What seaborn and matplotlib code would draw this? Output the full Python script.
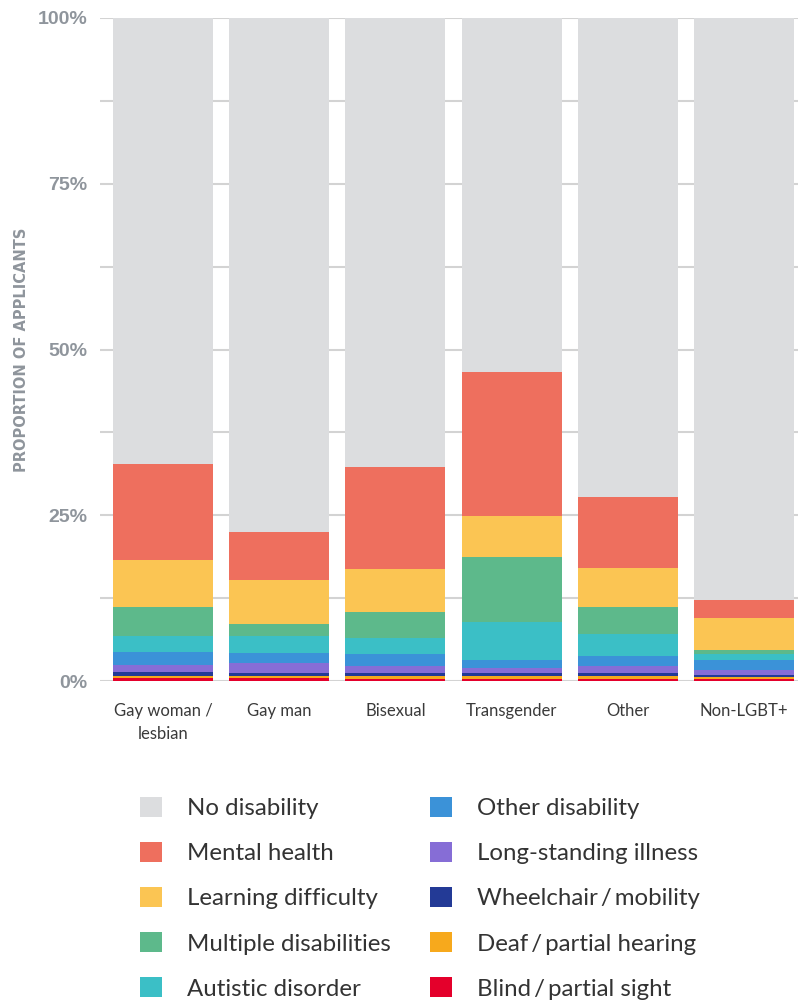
import numpy as np
import pandas as pd
import matplotlib
matplotlib.use("Agg")
import matplotlib.pyplot as plt
import seaborn as sns
from matplotlib.patches import Patch

# Applicant groups along the x axis
groups = ["Gay woman /\nlesbian", "Gay man", "Bisexual", "Transgender", "Other", "Non-LGBT+"]

# Share of applicants (%) per disability category, stacked bottom to top
blind_sight = [0.5, 0.45, 0.3, 0.3, 0.3, 0.3]
deaf_hearing = [0.25, 0.3, 0.4, 0.45, 0.4, 0.25]
wheelchair = [0.6, 0.4, 0.45, 0.45, 0.45, 0.3]
long_standing = [1.05, 1.5, 1.15, 0.75, 1.15, 0.75]
other_disability = [1.95, 1.5, 1.7, 1.15, 1.4, 1.5]
autistic = [2.45, 2.7, 2.45, 5.8, 3.4, 0.9]
multiple = [4.35, 1.8, 3.9, 9.75, 4.0, 0.75]
learning = [7.1, 6.6, 6.6, 6.3, 5.9, 4.8]
mental_health = [14.5, 7.2, 15.4, 21.7, 10.7, 2.7]

thin = "\u2009"
layers = [
    (f"Blind{thin}/{thin}partial sight", blind_sight, "#e4002b"),
    (f"Deaf{thin}/{thin}partial hearing", deaf_hearing, "#f7a91c"),
    (f"Wheelchair{thin}/{thin}mobility", wheelchair, "#233a96"),
    ("Long-standing illness", long_standing, "#866dd6"),
    ("Other disability", other_disability, "#3b92d8"),
    ("Autistic disorder", autistic, "#3bbfc6"),
    ("Multiple disabilities", multiple, "#5db98b"),
    ("Learning difficulty", learning, "#fbc553"),
    ("Mental health", mental_health, "#ee6f5e"),
]
disabled_total = np.sum([np.array(v) for _, v, _ in layers], axis=0)
no_disability = list(100 - disabled_total)
layers.append(("No disability", no_disability, "#dcdddf"))

sns.set_theme(style="white")
plt.rcParams["font.family"] = ["Lato", "DejaVu Sans"]

fig = plt.figure(figsize=(7.98, 10), dpi=100)
ax = fig.add_axes([100 / 798, 0.319, 1 - 100 / 798, 0.982 - 0.319])

# Stacked bars: draw cumulative heights from the tallest down
cum = np.cumsum([np.array(v) for _, v, _ in layers], axis=0)
df_base = pd.DataFrame({"group": groups})
for i in range(len(layers) - 1, -1, -1):
    name, _, col = layers[i]
    d = df_base.copy()
    d["value"] = cum[i]
    sns.barplot(data=d, x="group", y="value", color=col, saturation=1,
                width=100 / 116, linewidth=0, ax=ax, order=groups)

ax.set_xlim(-63 / 116, 5 + 54 / 116)
ax.set_ylim(0, 100)
ax.set_axisbelow(True)
ax.set_yticks([0, 25, 50, 75, 100])
ax.set_yticks([12.5, 37.5, 62.5, 87.5], minor=True)
ax.set_yticklabels(["0%", "25%", "50%", "75%", "100%"],
                   family=["Liberation Sans", "DejaVu Sans"], fontweight="bold",
                   fontsize=14, color="#8f959c")
ax.grid(axis="y", which="both", color="#d3d3d3", linewidth=1.5)
ax.grid(axis="x", visible=False)
ax.tick_params(axis="y", which="both", length=0, pad=9)
ax.tick_params(axis="x", length=0, pad=16, labelsize=12, labelcolor="#3a3a3a")
for lab in ax.get_xticklabels():
    lab.set_linespacing(1.55)
    lab.set_verticalalignment("top")
for s in ax.spines.values():
    s.set_visible(False)
ax.set_xlabel("")
ax.set_ylabel("")
fig.text(22 / 798, 1 - 350 / 1000, "PROPORTION OF APPLICANTS", rotation=90,
         ha="center", va="center", fontsize=11.7, fontweight="bold", color="#8f959c",
         family=["DejaVu Sans Condensed", "Liberation Sans Narrow", "DejaVu Sans"],
         fontstretch="condensed")

# Legend in two columns
col1 = ["No disability", "Mental health", "Learning difficulty", "Multiple disabilities", "Autistic disorder"]
col2 = ["Other disability", "Long-standing illness", f"Wheelchair{thin}/{thin}mobility",
        f"Deaf{thin}/{thin}partial hearing", f"Blind{thin}/{thin}partial sight"]
colors = {name: col for name, _, col in layers}
leg_kw = dict(loc="upper left", frameon=False, fontsize=17.3, handlelength=0.9, handleheight=0.9,
              handletextpad=1.04, labelspacing=0.95, borderpad=0, borderaxespad=0, labelcolor="#333333")
for labels, x0 in [(col1, 140), (col2, 430)]:
    handles = [Patch(facecolor=colors[n], edgecolor="none") for n in labels]
    fig.legend(handles, labels, bbox_to_anchor=(x0 / 798, 1 - 797 / 1000), **leg_kw)

fig.savefig("out.png", dpi=100)
